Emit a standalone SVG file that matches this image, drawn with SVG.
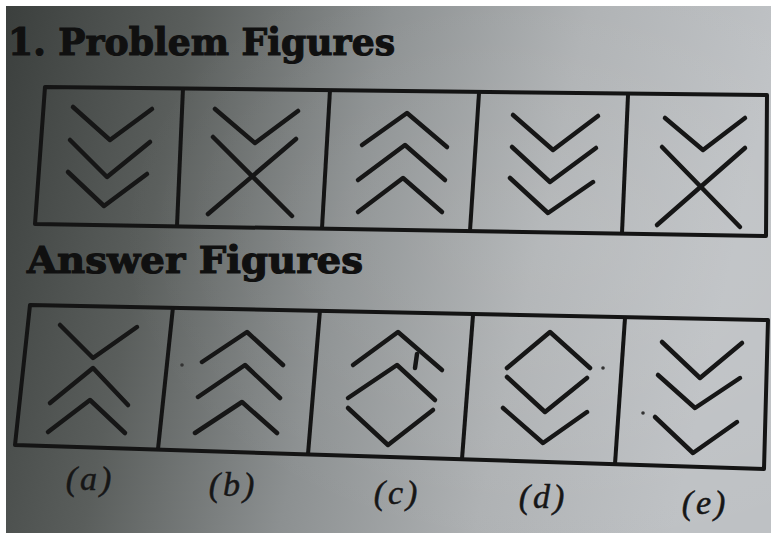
<svg xmlns="http://www.w3.org/2000/svg" width="771" height="533" viewBox="0 0 771 533">
<defs>
<linearGradient id="bg" x1="0" y1="0" x2="1" y2="0.15">
<stop offset="0" stop-color="#3a3e3c"/>
<stop offset="0.25" stop-color="#5a5e5c"/>
<stop offset="0.5" stop-color="#8c9091"/>
<stop offset="0.75" stop-color="#aeb1b3"/>
<stop offset="1" stop-color="#bec1c4"/>
</linearGradient>
<radialGradient id="hl" cx="0.75" cy="0.45" r="0.6">
<stop offset="0" stop-color="#ffffff" stop-opacity="0.1"/>
<stop offset="1" stop-color="#ffffff" stop-opacity="0"/>
</radialGradient>
<style>
.s{stroke:#161616;stroke-width:4.5;fill:none;stroke-linecap:round;stroke-linejoin:round}
.f{stroke:#141414;stroke-width:4;fill:none;stroke-linejoin:round}
.t{font-family:"DejaVu Serif","Liberation Serif",serif;font-weight:bold;font-size:38px;fill:#101010;stroke:#101010;stroke-width:1.2}
.l{font-family:"Liberation Serif","DejaVu Serif",serif;font-style:italic;font-size:34px;fill:#161616;stroke:#161616;stroke-width:0.5;text-anchor:middle;letter-spacing:3px}
.d{fill:#333}
</style>
</defs>
<rect width="771" height="533" fill="url(#bg)"/>
<rect width="771" height="533" fill="url(#hl)"/>

<text class="t" x="8" y="55" textLength="387" lengthAdjust="spacingAndGlyphs">1. Problem Figures</text>
<text class="t" x="27" y="273" textLength="336" lengthAdjust="spacingAndGlyphs">Answer Figures</text>

<g id="problem-frame">
<polygon class="f" points="45,87 767,95 766,236 35,224"/>
<line class="f" x1="183" y1="88" x2="177" y2="226"/>
<line class="f" x1="330" y1="90" x2="322" y2="228"/>
<line class="f" x1="479" y1="93" x2="470" y2="231"/>
<line class="f" x1="628" y1="95" x2="622" y2="233"/>
</g>

<g id="p1">
<polyline class="s" points="73,107 110,140 152,109"/>
<polyline class="s" points="70,140 107,177 150,142"/>
<polyline class="s" points="68,172 104,206 147,174"/>
</g>
<g id="p2">
<polyline class="s" points="215,109 255,143 298,111"/>
<line class="s" x1="213" y1="137" x2="292" y2="216"/>
<line class="s" x1="296" y1="139" x2="208" y2="214"/>
</g>
<g id="p3">
<polyline class="s" points="362,145 407,113 447,147"/>
<polyline class="s" points="358,180 405,145 445,180"/>
<polyline class="s" points="358,212 403,178 442,212"/>
</g>
<g id="p4">
<polyline class="s" points="513,115 553,150 598,116"/>
<polyline class="s" points="512,147 550,182 596,148"/>
<polyline class="s" points="510,178 548,213 593,182"/>
</g>
<g id="p5">
<polyline class="s" points="665,118 703,150 745,118"/>
<line class="s" x1="662" y1="147" x2="740" y2="227"/>
<line class="s" x1="745" y1="148" x2="657" y2="225"/>
</g>

<g id="answer-frame">
<polygon class="f" points="30,305 768,320 764,469 15,445"/>
<line class="f" x1="173" y1="307" x2="158" y2="449"/>
<line class="f" x1="320" y1="310" x2="308" y2="454"/>
<line class="f" x1="473" y1="315" x2="462" y2="459"/>
<line class="f" x1="625" y1="318" x2="615" y2="464"/>
</g>

<g id="a">
<polyline class="s" points="60,325 93,358 137,327"/>
<polyline class="s" points="50,403 93,368 128,405"/>
<polyline class="s" points="48,432 90,400 125,433"/>
</g>
<g id="b">
<polyline class="s" points="202,362 247,332 283,365"/>
<polyline class="s" points="198,397 245,365 280,398"/>
<polyline class="s" points="195,433 242,402 277,433"/>
<circle class="d" cx="182" cy="365" r="1.8"/>
</g>
<g id="c">
<polyline class="s" points="353,365 398,332 442,370"/>
<polyline class="s" points="417,354 415,368"/>
<polyline class="s" points="348,398 397,365 435,400"/>
<polyline class="s" points="348,408 388,445 433,410"/>
</g>
<g id="d">
<polyline class="s" points="507,368 550,332 590,368"/>
<polyline class="s" points="507,377 545,412 587,378"/>
<polyline class="s" points="503,408 543,443 587,412"/>
<circle class="d" cx="603" cy="368" r="1.8"/>
</g>
<g id="e">
<polyline class="s" points="662,342 700,378 742,343"/>
<polyline class="s" points="658,375 695,408 740,378"/>
<polyline class="s" points="655,417 693,453 737,422"/>
<circle class="d" cx="643" cy="413" r="1.8"/>
</g>

<g id="labels">
<text class="l" x="90" y="490">(a)</text>
<text class="l" x="233" y="496">(b)</text>
<text class="l" x="397" y="504">(c)</text>
<text class="l" x="543" y="508">(d)</text>
<text class="l" x="705" y="514">(e)</text>
</g>

<rect x="0" y="0" width="771" height="6" fill="#ffffff"/>
<rect x="0" y="0" width="6" height="533" fill="#ffffff"/>
</svg>
